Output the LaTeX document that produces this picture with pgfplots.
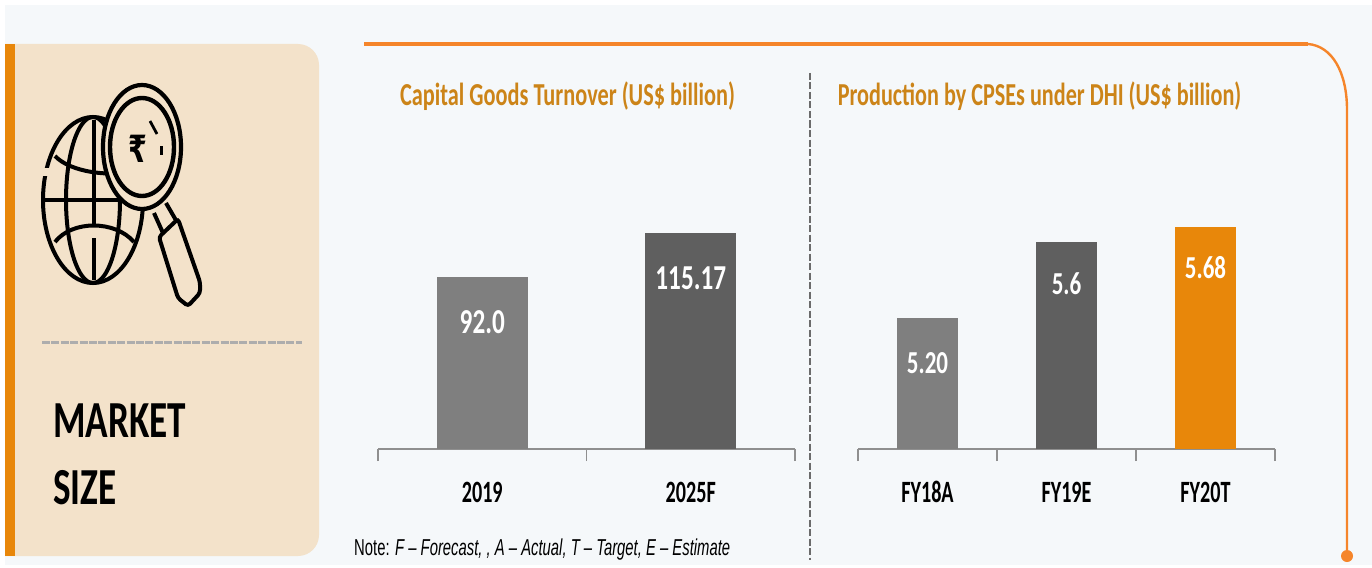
\documentclass[border=0pt]{standalone}
\usepackage{fontspec}
\usepackage{graphicx}
\usepackage{pgfplots}
\pgfplotsset{compat=1.18}
\setmainfont{Carlito}
\newfontfamily\arialf{Liberation Sans}
\newfontfamily\rupeef{DejaVu Sans}
\definecolor{panelbg}{HTML}{F5F8FA}
\definecolor{sand}{HTML}{F3E2CA}
\definecolor{orangeA}{HTML}{E8870A}
\definecolor{orangeB}{HTML}{F5852A}
\definecolor{titleC}{HTML}{CC8418}
\definecolor{axisgray}{HTML}{8F8F8F}
\definecolor{barA}{HTML}{7F7F7F}
\definecolor{barB}{HTML}{5F5F5F}
\newcommand{\sq}[3]{\scalebox{#1}[1]{\fontsize{#2}{#2}\selectfont #3}}
\pgfplotsset{
  mybars/.style={
    scale only axis, width=417pt, anchor=south west,
    axis x line*=bottom, axis y line=none,
    tick align=outside, major tick length=0pt, minor tick length=12pt,
    tick style={color=axisgray,line width=1.4pt},
    axis line style={color=axisgray,line width=1.4pt,-},
    xtick=data, ybar, enlargelimits=false,
    xticklabel style={anchor=center,yshift=-43pt,text=black},
    nodes near coords,
    point meta=explicit symbolic,
    every node near coord/.append style={anchor=center,yshift=-45pt,text=white,font=\bfseries},
  },
}
\begin{document}
\begin{tikzpicture}
\begin{scope}[x=1pt,y=-1pt]
\path[use as bounding box,fill=white] (0,0) rectangle (1372,567);
\fill[panelbg] (5,5) rectangle (1372,565);
% left panel
\fill[sand,rounded corners=21pt] (-30,44) -- (319,44) -- (319,556) -- (-30,556) -- cycle;
\fill[white] (-31,0) rectangle (5,567);
\fill[orangeA] (5,44) rectangle (15,556);
% orange rule
\draw[orangeB,line width=3.4pt] (364,44) -- (1308,44);
\draw[orangeB,line width=2.4pt] (1308,44) .. controls (1332,46) and (1347,72) .. (1347,110) -- (1347,555);
\fill[orangeB] (1347,556) circle[radius=6];
% icon : globe
\begin{scope}[line width=4pt,black]
\draw (93,200) ellipse[x radius=50,y radius=83];
\draw (93,200) ellipse[x radius=27,y radius=83];
\draw (94,120) -- (94,225);
\draw (94,238) -- (94,280);
\draw (44,200) -- (143,200);
\draw (55,156) .. controls (70,172) and (110,178) .. (140,170);
\draw (55,242) .. controls (72,220) and (115,220) .. (134,242);
\fill[sand] (40,168) rectangle (54,176);
% magnifier
\fill[sand] (142,147) ellipse[x radius=39,y radius=62];
\draw[line width=4.2pt] (142,147) ellipse[x radius=39,y radius=62];
\draw[line width=4.4pt] (142,147) ellipse[x radius=32,y radius=49];
\draw (154,213) -- (163,233);
\draw (166,203) -- (177,222);
\filldraw[fill=sand,rounded corners=3pt] (159,237) -- (178,219) -- (200,282) -- (200,293) -- (188,306) -- (178,298) -- cycle;
\draw[line width=2.8pt] (150,121) -- (157,134);
\draw[line width=3pt] (161,146) -- (161,155);
\node at (138,149) {\scalebox{0.9}[1.25]{\fontsize{30}{30}\selectfont\rupeef\bfseries ₹}};
\end{scope}
% divider
\draw[color=black!32,line width=3pt,dash pattern=on 8pt off 1.4pt] (42,342) -- (302,342);
\node[anchor=west,inner sep=0] at (53,420.5) {\sq{0.715}{52}{\bfseries MARKET}};
\node[anchor=west,inner sep=0] at (53,487.5) {\sq{0.715}{52}{\bfseries SIZE}};
% titles
\node[text=titleC] at (567.5,96.5) {\sq{0.697}{32}{\bfseries Capital Goods Turnover (US\$ billion)}};
\node[text=titleC] at (1039.5,96.5) {\sq{0.693}{32}{\bfseries Production by CPSEs under DHI (US\$ billion)}};
% vertical divider
\draw[color=black!58,line width=2pt,dash pattern=on 7pt off 2.5pt] (810,73) -- (810,560);
% note
\node[anchor=west,inner sep=0] at (354,550) {\sq{0.645}{23}{\arialf Note: \itshape F – Forecast, , A – Actual, T – Target, E – Estimate}};
\end{scope}
% left chart
\begin{axis}[mybars, at={(378pt,-449pt)}, height=243.4pt,
  xmin=-0.5,xmax=1.5,ymin=0,ymax=130,
  bar width=91pt, bar shift=0pt,
  xtick={0,1},xticklabels={\sq{0.65}{31}{\bfseries 2019},\sq{0.65}{31}{\bfseries 2025F}},
  minor xtick={-0.5,0.5,1.5},
  ]
\addplot[fill=barA,draw=none] coordinates {(0,92.0)[\sq{0.72}{35}{92.0}]};
\addplot[fill=barB,draw=none] coordinates {(1,115.17)[\sq{0.72}{35}{115.17}]};
\end{axis}
% right chart
\begin{axis}[mybars, at={(858pt,-449pt)}, height=240pt,
  xmin=-0.5,xmax=2.5,ymin=4.509,ymax=5.775,
  bar width=61pt, bar shift=0pt,
  xtick={0,1,2},xticklabels={\sq{0.65}{31}{\bfseries FY18A},\sq{0.65}{31}{\bfseries FY19E},\sq{0.65}{31}{\bfseries FY20T}},
  minor xtick={-0.5,0.5,1.5,2.5},
  ]
\addplot[fill=barA,draw=none] coordinates {(0,5.20)[\sq{0.72}{32}{5.20}]};
\addplot[fill=barB,draw=none,every node near coord/.append style={yshift=3pt}] coordinates {(1,5.6)[\sq{0.72}{32}{5.6}]};
\addplot[fill=orangeA,draw=none,every node near coord/.append style={yshift=4pt}] coordinates {(2,5.68)[\sq{0.72}{32}{5.68}]};
\end{axis}
\end{tikzpicture}
\end{document}
